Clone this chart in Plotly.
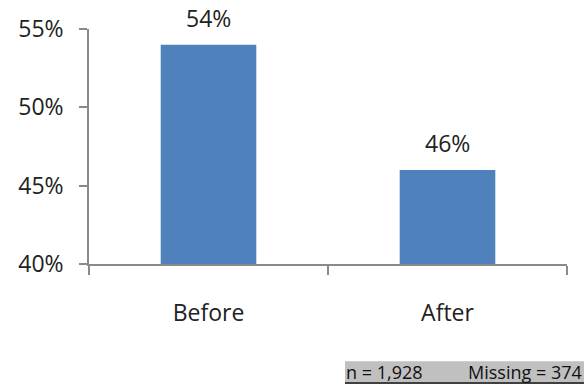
import plotly.graph_objects as go

# Share of respondents, before vs after
categories = ["Before", "After"]
values = [54, 46]
value_labels = ["54%", "46%"]
y_ticks = [40, 45, 50, 55]
y_tick_labels = ["40%", "45%", "50%", "55%"]
sample_note = "n = 1,928"
missing_note = "Missing = 374"

W, H = 584, 389
L, R, T, B = 89, 17, 25, 125
plot_w = W - L - R
plot_h = H - T - B

def px_x(px):
    return (px - L) / plot_w

def px_y(py):
    return (H - B - py) / plot_h

FONT = "Open Sans"
AXIS = "#8a8a8a"
TEXT = "#222222"

fig = go.Figure(
    go.Bar(
        x=categories,
        y=values,
        width=0.4,
        marker=dict(color="#4F81BD", line=dict(width=0)),
        hoverinfo="x+y",
    )
)

# value labels sitting a little above each bar
for cat, val, lab in zip(categories, values, value_labels):
    fig.add_annotation(
        x=cat, y=val, text=lab, showarrow=False,
        xanchor="center", yanchor="bottom", yshift=9,
        font=dict(family=FONT, size=23, color=TEXT),
    )

fig.update_layout(
    width=W,
    height=H,
    margin=dict(l=L, r=R, t=T, b=B, pad=0),
    paper_bgcolor="white",
    plot_bgcolor="white",
    showlegend=False,
    font=dict(family=FONT, color=TEXT),
)

fig.update_xaxes(
    type="category",
    range=[-0.5, 1.5],
    showline=True,
    linecolor=AXIS,
    linewidth=1.5,
    ticks="outside",
    tickson="boundaries",
    ticklen=9,
    tickcolor=AXIS,
    tickwidth=1.5,
    showgrid=False,
    tickfont=dict(family=FONT, size=23, color=TEXT),
    ticklabelstandoff=28,
)

fig.update_yaxes(
    range=[40, 55],
    tickvals=y_ticks,
    ticktext=y_tick_labels,
    showline=True,
    linecolor=AXIS,
    linewidth=1.5,
    ticks="outside",
    ticklen=8,
    tickcolor=AXIS,
    tickwidth=1.5,
    showgrid=False,
    zeroline=False,
    tickfont=dict(family=FONT, size=23, color=TEXT),
    ticklabelstandoff=11,
)

# grey note box with underline in the lower-right corner
fig.add_shape(
    type="rect", xref="paper", yref="paper",
    x0=px_x(345), x1=px_x(584), y0=px_y(384), y1=px_y(363),
    fillcolor="#c0c0c0", line=dict(width=0), layer="below",
)
fig.add_shape(
    type="line", xref="paper", yref="paper",
    x0=px_x(345), x1=px_x(584), y0=px_y(385), y1=px_y(385),
    line=dict(color="black", width=1.5),
)
fig.add_annotation(
    text=sample_note, xref="paper", yref="paper",
    x=px_x(344), y=px_y(374), xanchor="left", yanchor="middle",
    showarrow=False, font=dict(family=FONT, size=18, color="#111111"),
)
fig.add_annotation(
    text=missing_note, xref="paper", yref="paper",
    x=px_x(584), y=px_y(374), xanchor="right", yanchor="middle",
    showarrow=False, font=dict(family=FONT, size=18, color="#111111"),
)

fig.write_html("out.html")
